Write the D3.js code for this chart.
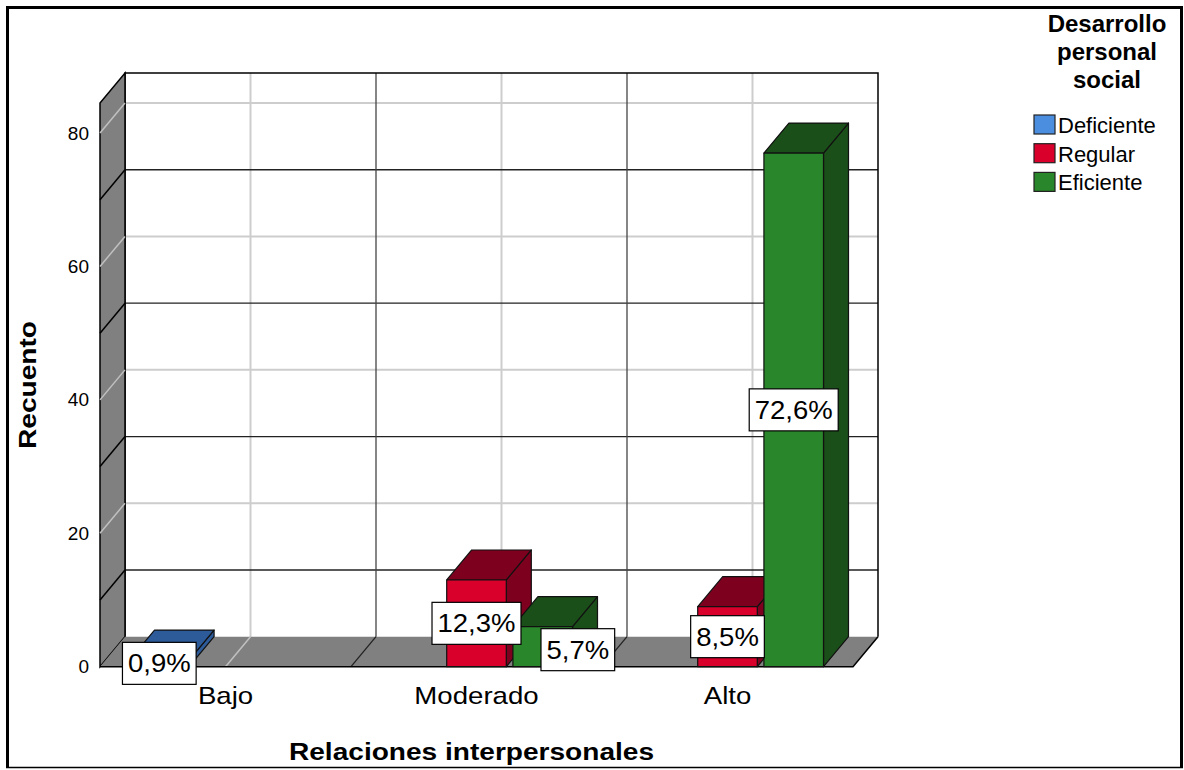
<!DOCTYPE html>
<html><head><meta charset="utf-8">
<script src="https://cdn.jsdelivr.net/npm/d3@7"></script>
<style>
html,body{margin:0;padding:0;background:#fff;}
text{font-family:"Liberation Sans",Arial,sans-serif;fill:#000;}
</style></head>
<body>
<svg id="chart" width="1184" height="770"></svg>
<script>
// ---- data ----
const categories = ["Bajo", "Moderado", "Alto"];
const seriesNames = ["Deficiente", "Regular", "Eficiente"];
const deficienteCounts = [1, 0, 0];
const regularCounts = [0, 13, 9];
const eficienteCounts = [0, 6, 77];
const yTicks = [0, 20, 40, 60, 80];
const gridDark = [10, 30, 50, 70];
const gridLight = [20, 40, 60, 80];
const legendTitle = ["Desarrollo", "personal", "social"];
const xTitle = "Relaciones interpersonales";
const yTitle = "Recuento";

const frontColors = ["#4b8ee0", "#d9002c", "#2a862a"];
const darkColors = ["#2d5a98", "#7e001f", "#1b4f19"];

const seriesCounts = [deficienteCounts, regularCounts, eficienteCounts];
const total = d3.sum(seriesCounts.flat());
const fmtPct = v => (v / total * 100).toFixed(1).replace(".", ",") + "%";

// ---- geometry ----
const svg = d3.select("#chart");
const X0 = 100, X1 = 853, DX = 25, DY = -30;
const y = d3.scaleLinear().domain([0, 84.5]).range([666.7, 103]);
const x0 = d3.scaleBand().domain(categories).range([X0, X1]);
const x1 = d3.scaleBand().domain(seriesNames).range([-96, 96]).paddingInner(0.1);
const y0 = y(0), yTop = y(84.5);

function stretched(g, x, yy, sx, rot) {
  return g.append("text").attr("transform",
    `translate(${x},${yy})` + (rot ? ` rotate(${rot})` : "") + ` scale(${sx},1)`);
}

// outer frame
svg.append("path")
  .attr("d", "M7.5,767 L7.5,7.5 L1181.5,7.5 L1181.5,767")
  .attr("fill", "none").attr("stroke", "#000").attr("stroke-width", 3);
svg.append("line").attr("x1", 6).attr("x2", 1183).attr("y1", 767.5).attr("y2", 767.5)
  .attr("stroke", "#000").attr("stroke-width", 1.5);

// back wall
const back = svg.append("g");
back.append("rect").attr("x", X0 + DX).attr("y", yTop + DY)
  .attr("width", X1 - X0).attr("height", y0 - yTop).attr("fill", "#fff");
gridLight.forEach(v => back.append("line")
  .attr("x1", X0 + DX).attr("x2", X1 + DX).attr("y1", y(v) + DY).attr("y2", y(v) + DY)
  .attr("stroke", "#cdcdcd").attr("stroke-width", 2));
categories.forEach(c => {
  const cx = x0(c) + x0.bandwidth() / 2 + DX;
  back.append("line").attr("x1", cx).attr("x2", cx).attr("y1", yTop + DY).attr("y2", y0 + DY)
    .attr("stroke", "#cdcdcd").attr("stroke-width", 2);
});
gridDark.forEach(v => back.append("line")
  .attr("x1", X0 + DX).attr("x2", X1 + DX).attr("y1", y(v) + DY).attr("y2", y(v) + DY)
  .attr("stroke", "#222").attr("stroke-width", 1.3));
categories.slice(1).forEach(c => {
  const bx = x0(c) + DX;
  back.append("line").attr("x1", bx).attr("x2", bx).attr("y1", yTop + DY).attr("y2", y0 + DY)
    .attr("stroke", "#444").attr("stroke-width", 1.3);
});
back.append("path")
  .attr("d", `M${X0 + DX},${y0 + DY} L${X0 + DX},${yTop + DY} L${X1 + DX},${yTop + DY} L${X1 + DX},${y0 + DY}`)
  .attr("fill", "none").attr("stroke", "#000").attr("stroke-width", 1.5);

// side wall
const side = svg.append("g");
side.append("path")
  .attr("d", `M${X0},${y0} L${X0},${yTop} L${X0 + DX},${yTop + DY} L${X0 + DX},${y0 + DY} Z`)
  .attr("fill", "#808080").attr("stroke", "#000").attr("stroke-width", 1.5);
gridLight.forEach(v => side.append("line")
  .attr("x1", X0).attr("y1", y(v)).attr("x2", X0 + DX).attr("y2", y(v) + DY)
  .attr("stroke", "#c0c0c0").attr("stroke-width", 1.5));
gridDark.forEach(v => side.append("line")
  .attr("x1", X0).attr("y1", y(v)).attr("x2", X0 + DX).attr("y2", y(v) + DY)
  .attr("stroke", "#000").attr("stroke-width", 1.5));

// floor
const floor = svg.append("g");
floor.append("path")
  .attr("d", `M${X0},${y0} L${X0 + DX},${y0 + DY} L${X1 + DX},${y0 + DY} L${X1},${y0} Z`)
  .attr("fill", "#808080");
categories.forEach(c => {
  const cx = x0(c) + x0.bandwidth() / 2;
  floor.append("line").attr("x1", cx).attr("y1", y0).attr("x2", cx + DX).attr("y2", y0 + DY)
    .attr("stroke", "#c0c0c0").attr("stroke-width", 1.5);
});
categories.slice(1).forEach(c => {
  const bx = x0(c);
  floor.append("line").attr("x1", bx).attr("y1", y0).attr("x2", bx + DX).attr("y2", y0 + DY)
    .attr("stroke", "#222").attr("stroke-width", 1.3);
});
floor.append("path")
  .attr("d", `M${X0},${y0} L${X1},${y0} L${X1 + DX},${y0 + DY}`)
  .attr("fill", "none").attr("stroke", "#000").attr("stroke-width", 1.5);

// bars
const bars = [];
categories.forEach((c, ci) => {
  seriesNames.forEach((s, si) => {
    const v = seriesCounts[si][ci];
    if (v > 0) bars.push({c, s, si, v});
  });
});
const barG = svg.append("g");
bars.forEach(b => {
  const bx = x0(b.c) + x0.bandwidth() / 2 + x1(b.s);
  const bw = x1.bandwidth();
  const yv = y(b.v);
  b.bx = bx; b.bw = bw; b.yv = yv;
  const g = barG.append("g").attr("stroke", "#111").attr("stroke-width", 1.2).attr("stroke-linejoin", "round");
  g.append("path").attr("fill", darkColors[b.si])
    .attr("d", `M${bx + bw},${yv} L${bx + bw + DX},${yv + DY} L${bx + bw + DX},${y0 + DY} L${bx + bw},${y0} Z`);
  g.append("path").attr("fill", darkColors[b.si])
    .attr("d", `M${bx},${yv} L${bx + DX},${yv + DY} L${bx + bw + DX},${yv + DY} L${bx + bw},${yv} Z`);
  g.append("rect").attr("x", bx).attr("y", yv).attr("width", bw).attr("height", y0 - yv)
    .attr("fill", frontColors[b.si]);
});

// y tick labels
const yAxis = svg.append("g").attr("transform", `translate(${X0 - 11},0)`)
  .call(d3.axisLeft(y).tickValues(yTicks).tickSize(0).tickPadding(0));
yAxis.select(".domain").remove();
yAxis.selectAll("text").attr("font-size", 19).attr("font-family", "Liberation Sans, Arial, sans-serif")
  .attr("fill", "#000");

// category labels
categories.forEach(c => {
  stretched(svg, x0(c) + x0.bandwidth() / 2, 704, 1.15)
    .attr("text-anchor", "middle").attr("font-size", 24).text(c);
});

// data labels
const labelG = svg.append("g");
let prev = null;
const SX = 1.1;
bars.sort((a, b) => a.bx - b.bx).forEach(b => {
  const cy = (b.yv + y0) / 2;
  let cx = b.bx + b.bw / 2;
  const t = labelG.append("text").attr("font-size", 25).attr("text-anchor", "middle").text(fmtPct(b.v));
  const tw = t.node().getComputedTextLength() * SX;
  const w = tw + 11, h = 42;
  let cyy = cy;
  if (prev && cx - w / 2 < prev.r && Math.abs(cy - prev.cy) < h) { cx = prev.r + 20 + w / 2; cyy = cy + 3; }
  t.attr("transform", `translate(${cx},${cyy + 9}) scale(${SX},1)`);
  labelG.insert("rect", "text:last-of-type")
    .attr("x", cx - w / 2).attr("y", cyy - h / 2).attr("width", w).attr("height", h)
    .attr("fill", "#fff").attr("stroke", "#000").attr("stroke-width", 1.2);
  t.raise();
  prev = {r: cx + w / 2, cy: cyy};
});

// axis titles
stretched(svg, (X0 + X1) / 2 - 5, 760, 1.17)
  .attr("text-anchor", "middle").attr("font-size", 24).attr("font-weight", "bold").text(xTitle);
stretched(svg, 36, 385, 1.17, -90)
  .attr("text-anchor", "middle").attr("font-size", 24).attr("font-weight", "bold").text(yTitle);

// legend
const leg = svg.append("g");
legendTitle.forEach((l, i) => leg.append("text")
  .attr("x", 1107).attr("y", 32 + i * 28).attr("text-anchor", "middle")
  .attr("font-size", 24).attr("font-weight", "bold").text(l));
seriesNames.forEach((s, i) => {
  const ly = 115 + i * 28.7;
  leg.append("rect").attr("x", 1034).attr("y", ly).attr("width", 21).attr("height", 19)
    .attr("fill", frontColors[i]).attr("stroke", "#222").attr("stroke-width", 1.2);
  leg.append("text").attr("x", 1058).attr("y", ly + 18).attr("font-size", 22).text(s);
});
</script>
</body></html>
